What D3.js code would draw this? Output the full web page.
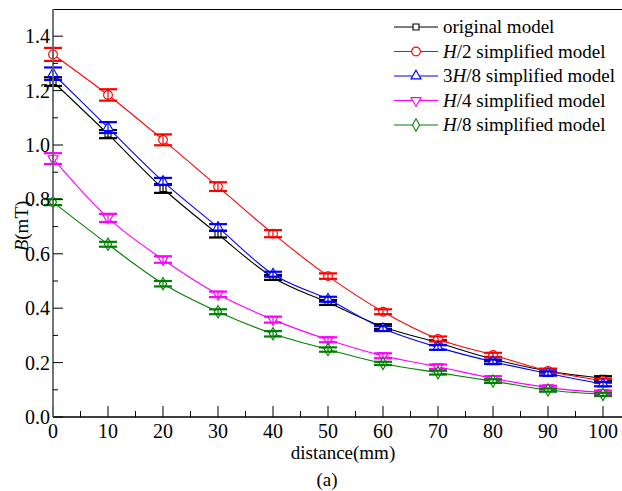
<!DOCTYPE html>
<html>
<head>
<meta charset="utf-8">
<script src="https://cdn.jsdelivr.net/npm/d3@7"></script>
<style>
  body { margin: 0; background: #fff; }
  svg { display: block; }
  text { font-family: "Liberation Serif", "DejaVu Serif", serif; }
</style>
</head>
<body>
<div id="chart"></div>
<script>
// data
const distance = [0, 10, 20, 30, 40, 50, 60, 70, 80, 90, 100]

const original = [1.233, 1.04, 0.84, 0.672, 0.513, 0.421, 0.332, 0.273, 0.213, 0.169, 0.142]
const originalErr = [0.016, 0.015, 0.016, 0.012, 0.009, 0.009, 0.009, 0.009, 0.008, 0.008, 0.008]

const half = [1.333, 1.184, 1.019, 0.847, 0.674, 0.518, 0.387, 0.287, 0.228, 0.169, 0.133]
const halfErr = [0.024, 0.021, 0.02, 0.016, 0.013, 0.01, 0.009, 0.009, 0.008, 0.008, 0.008]

const threeEighth = [1.262, 1.064, 0.866, 0.697, 0.525, 0.433, 0.325, 0.256, 0.203, 0.16, 0.121]
const threeEighthErr = [0.023, 0.02, 0.013, 0.012, 0.009, 0.009, 0.009, 0.009, 0.008, 0.008, 0.008]

const quarter = [0.95, 0.732, 0.579, 0.451, 0.358, 0.284, 0.225, 0.185, 0.142, 0.108, 0.09]
const quarterErr = [0.02, 0.015, 0.012, 0.01, 0.011, 0.009, 0.009, 0.008, 0.008, 0.007, 0.007]

const eighth = [0.79, 0.635, 0.49, 0.387, 0.306, 0.248, 0.197, 0.163, 0.132, 0.099, 0.083]
const eighthErr = [0.011, 0.009, 0.01, 0.009, 0.01, 0.008, 0.006, 0.007, 0.007, 0.006, 0.006]

const xTicks = [0, 10, 20, 30, 40, 50, 60, 70, 80, 90, 100]
const yTicks = [0.0, 0.2, 0.4, 0.6, 0.8, 1.0, 1.2, 1.4]

const series = [
    {name: ["", "original model"], values: original, err: originalErr, color: "#000000", marker: "square"},
    {name: ["H", "/2 simplified model"], values: half, err: halfErr, color: "#ff0000", marker: "circle"},
    {name: ["3", "H", "/8 simplified model"], values: threeEighth, err: threeEighthErr, color: "#0000ff", marker: "triangle"},
    {name: ["H", "/4 simplified model"], values: quarter, err: quarterErr, color: "#ff00ff", marker: "triangleDown"},
    {name: ["H", "/8 simplified model"], values: eighth, err: eighthErr, color: "#008000", marker: "diamond"}
]

const width = 622, height = 491
const mLeft = 53, mRight = 622, mTop = 9, mBottom = 417
const serif = "'Liberation Serif', 'DejaVu Serif', serif"

const x = d3.scaleLinear().domain([0, 100]).range([mLeft, 603])
const y = d3.scaleLinear().domain([0, 1.5]).range([mBottom, mTop])

const svg = d3.select("#chart").append("svg")
    .attr("width", width)
    .attr("height", height)
    .attr("font-family", serif)

// frame line on top
svg.append("line").attr("x1", mLeft).attr("x2", mRight).attr("y1", mTop + 0.5).attr("y2", mTop + 0.5)
    .attr("stroke", "#000").attr("stroke-width", 1.2)

// markers
const symbolFor = (m) => {
    if (m == "square") return d3.symbol().type(d3.symbolSquare).size(36)
    if (m == "circle") return d3.symbol().type(d3.symbolCircle).size(60)
    if (m == "triangle") return d3.symbol().type(d3.symbolTriangle).size(44)
    if (m == "triangleDown") return d3.symbol().type(d3.symbolTriangle).size(44)
    return d3.symbol().type(d3.symbolDiamond).size(44)
}

const line = d3.line()
    .x((d, i) => x(distance[i]))
    .y(d => y(d))
    .curve(d3.curveMonotoneX)

const plot = svg.append("g")

series.forEach(s => {
    plot.append("path")
        .attr("d", line(s.values))
        .attr("fill", "none")
        .attr("stroke", s.color)
        .attr("stroke-width", 1.1)

    const g = plot.append("g")
    g.selectAll("path.mk")
        .data(s.values)
        .enter()
        .append("path")
        .attr("class", "mk")
        .attr("d", symbolFor(s.marker)())
        .attr("transform", (d, i) => "translate(" + x(distance[i]) + "," + y(d) + ")" + (s.marker == "triangleDown" ? " rotate(180)" : ""))
        .attr("fill", "#fff")
        .attr("stroke", s.color)
        .attr("stroke-width", 1.1)

    // error bars
    const eb = plot.append("g").attr("stroke", s.color)
    s.values.forEach((v, i) => {
        const cx = x(distance[i])
        const y1 = y(v + s.err[i]), y2 = y(v - s.err[i])
        eb.append("line").attr("x1", cx).attr("x2", cx).attr("y1", y1).attr("y2", y2).attr("stroke-width", 1.2)
        eb.append("line").attr("x1", cx - 9).attr("x2", cx + 9).attr("y1", y1).attr("y2", y1).attr("stroke-width", 2.2)
        eb.append("line").attr("x1", cx - 9).attr("x2", cx + 9).attr("y1", y2).attr("y2", y2).attr("stroke-width", 2.2)
    })
})

// x axis
const xAxis = svg.append("g").attr("transform", "translate(0," + mBottom + ")")
xAxis.append("line").attr("x1", mLeft).attr("x2", mRight).attr("stroke", "#000").attr("stroke-width", 1.5)
xAxis.selectAll("line.minor")
    .data(d3.range(5, 101, 10))
    .enter().append("line")
    .attr("class", "minor")
    .attr("x1", d => x(d)).attr("x2", d => x(d))
    .attr("y1", 0).attr("y2", -6)
    .attr("stroke", "#000")
xAxis.selectAll("line.major")
    .data(xTicks)
    .enter().append("line")
    .attr("class", "major")
    .attr("x1", d => x(d)).attr("x2", d => x(d))
    .attr("y1", 0).attr("y2", -11)
    .attr("stroke", "#000")
xAxis.selectAll("text")
    .data(xTicks)
    .enter().append("text")
    .attr("x", d => x(d))
    .attr("y", 21)
    .attr("text-anchor", "middle")
    .attr("font-size", 20)
    .text(d => d)

// y axis
const yAxis = svg.append("g").attr("transform", "translate(" + mLeft + ",0)")
yAxis.append("line").attr("y1", mTop).attr("y2", mBottom).attr("stroke", "#666").attr("stroke-width", 1.8)
yAxis.selectAll("line.minor")
    .data(d3.range(0.1, 1.5, 0.2))
    .enter().append("line")
    .attr("class", "minor")
    .attr("y1", d => y(d)).attr("y2", d => y(d))
    .attr("x1", 0).attr("x2", 5)
    .attr("stroke", "#000")
yAxis.selectAll("line.major")
    .data(yTicks)
    .enter().append("line")
    .attr("class", "major")
    .attr("y1", d => y(d)).attr("y2", d => y(d))
    .attr("x1", 0).attr("x2", 10)
    .attr("stroke", "#000")
yAxis.selectAll("text")
    .data(yTicks)
    .enter().append("text")
    .attr("x", -3)
    .attr("y", d => y(d) + 7)
    .attr("text-anchor", "end")
    .attr("font-size", 20)
    .text(d => d3.format(".1f")(d))

// axis titles
svg.append("text")
    .attr("x", 343).attr("y", 459)
    .attr("text-anchor", "middle")
    .attr("font-size", 19)
    .text("distance(mm)")

const yt = svg.append("text")
    .attr("transform", "translate(28,226) rotate(-90)")
    .attr("text-anchor", "middle")
    .attr("font-size", 19)
yt.append("tspan").attr("font-style", "italic").text("B")
yt.append("tspan").text("(mT)")

svg.append("text")
    .attr("x", 327).attr("y", 486)
    .attr("text-anchor", "middle")
    .attr("font-size", 19)
    .text("(a)")

// legend
const legend = svg.append("g")
series.forEach((s, k) => {
    const ly = 27 + k * 24.5
    legend.append("line").attr("x1", 394).attr("x2", 438).attr("y1", ly).attr("y2", ly)
        .attr("stroke", s.color).attr("stroke-width", 1.1)
    legend.append("path")
        .attr("d", symbolFor(s.marker)())
        .attr("transform", "translate(416," + ly + ")" + (s.marker == "triangleDown" ? " rotate(180)" : ""))
        .attr("fill", "#fff")
        .attr("stroke", s.color)
        .attr("stroke-width", 1.1)
    const t = legend.append("text").attr("x", 443).attr("y", ly + 6).attr("font-size", 19)
    s.name.forEach(part => {
        t.append("tspan").attr("font-style", part == "H" ? "italic" : "normal").text(part)
    })
})
</script>
</body>
</html>
